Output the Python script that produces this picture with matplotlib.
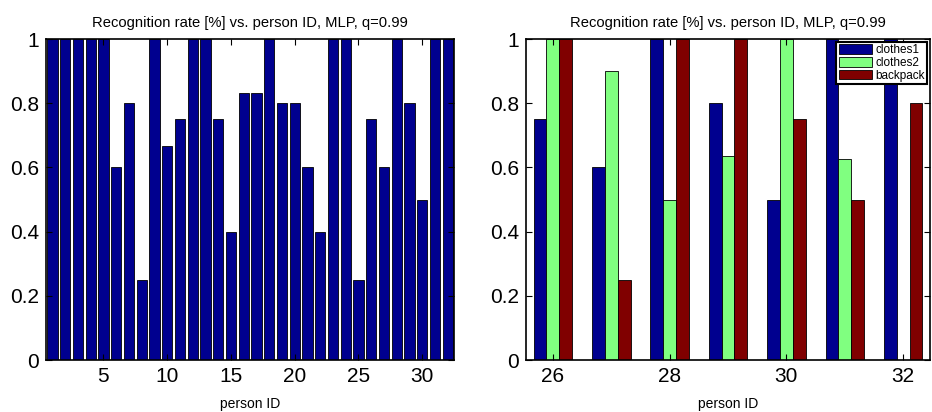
import numpy as np
import matplotlib
matplotlib.use('Agg')
import matplotlib.pyplot as plt

plt.rcParams['font.family'] = ['Liberation Sans', 'DejaVu Sans']

# overall recognition rate per person (left plot)
person_ids = np.arange(1, 33)
overall_rate = [1, 1, 1, 1, 1, 0.6, 0.8, 0.25, 1, 0.667, 0.75, 1, 1, 0.75, 0.4, 0.833,
                0.833, 1, 0.8, 0.8, 0.6, 0.4, 1, 1, 0.25, 0.75, 0.6, 1, 0.8, 0.5, 1, 1]

# per-condition rates for persons 26..32 (right plot)
subset_ids = np.arange(26, 33)
clothes1 = [0.75, 0.6, 1, 0.8, 0.5, 1, 1]
clothes2 = [1, 0.9, 0.5, 0.636, 1, 0.625, 0]
backpack = [1, 0.25, 1, 1, 0.75, 0.5, 0.8]
series_names = ['clothes1', 'clothes2', 'backpack']
series_colors = ['#00008f', '#80ff80', '#800000']

title = 'Recognition rate [%] vs. person ID, MLP, q=0.99'
yticks = [0, 0.2, 0.4, 0.6, 0.8, 1]
ytick_labels = ['0', '0.2', '0.4', '0.6', '0.8', '1']

fig = plt.figure(figsize=(9.32, 4.12), dpi=100)
ax1 = fig.add_axes([0.0494, 0.1262, 0.4378, 0.779])
ax2 = fig.add_axes([0.5644, 0.1262, 0.4335, 0.779])


def style_axis(ax):
    for s in ax.spines.values():
        s.set_linewidth(1.2)
    ax.tick_params(direction='in', top=True, right=True, labelsize=15,
                   length=4, width=0.8, pad=5)
    ax.set_ylim(0, 1)
    ax.set_yticks(yticks)
    ax.set_yticklabels(ytick_labels)
    ax.set_title(title, fontsize=10.6, pad=9)
    ax.set_xlabel('person ID', fontsize=10, labelpad=8)


# left: all persons
ax1.bar(person_ids, overall_rate, width=0.8, color=series_colors[0],
        edgecolor='black', linewidth=0.6)
ax1.set_xlim(0.5, 32.5)
ax1.set_xticks([5, 10, 15, 20, 25, 30])
style_axis(ax1)

# right: grouped bars
w = 0.22
for i, (vals, name, col) in enumerate(zip([clothes1, clothes2, backpack],
                                          series_names, series_colors)):
    ax2.bar(subset_ids + (i - 1) * w, vals, width=w, color=col,
            edgecolor='black', linewidth=0.6, label=name)
ax2.set_xlim(25.54, 32.46)
ax2.set_xticks([26, 28, 30, 32])
style_axis(ax2)
leg = ax2.legend(loc='upper right', fontsize=8.5, frameon=True, fancybox=False,
                 handlelength=2.8, handleheight=0.9, handletextpad=0.3,
                 labelspacing=0.05, borderpad=0.2, borderaxespad=0.25)
leg.get_frame().set_edgecolor('black')
leg.get_frame().set_linewidth(1.5)
leg.get_frame().set_alpha(1)

fig.savefig('out.png', dpi=100)
